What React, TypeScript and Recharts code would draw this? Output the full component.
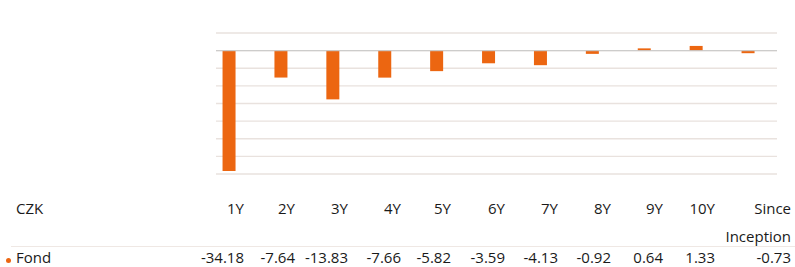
import React from "react";
import { BarChart, Bar, XAxis, YAxis, CartesianGrid, ReferenceLine } from "recharts";

const categories = ["1Y", "2Y", "3Y", "4Y", "5Y", "6Y", "7Y", "8Y", "9Y", "10Y", "Since Inception"];
const fondValues = [-34.18, -7.64, -13.83, -7.66, -5.82, -3.59, -4.13, -0.92, 0.64, 1.33, -0.73];
const yTicks = [-35, -30, -25, -20, -15, -10, -5, 0, 5];
const yDomain: [number, number] = [-35, 5];
const currencyLabel = "CZK";
const seriesName = "Fond";

const data = categories.map((cat, i) => ({ idx: i, cat, fond: fondValues[i] }));

const ORANGE = "#ec6611";
const FONT = "'Open Sans', 'Noto Sans', sans-serif";
const colWidths = [51, 51, 53, 53, 50, 54, 53, 53, 52, 52, 76];
const firstCol = 193;

const gridGenerator = (props: any) => {
  const scale = props?.yAxis?.scale;
  const offset = props?.offset;
  return yTicks.map((t) => {
    if (typeof scale === "function") return scale(t);
    if (scale && typeof scale.map === "function") return scale.map(t);
    if (scale && typeof scale.scale === "function") return scale.scale(t);
    const top = offset?.top ?? 0;
    const h = offset?.height ?? 0;
    return top + ((yDomain[1] - t) / (yDomain[1] - yDomain[0])) * h;
  });
};

export default function App() {
  return (
    <div
      style={{
        position: "absolute",
        left: 0,
        top: 0,
        width: 795,
        height: 267,
        overflow: "hidden",
        background: "#fff",
        fontFamily: FONT,
        color: "#1a1a1a",
      }}
    >
      <BarChart
        width={795}
        height={190}
        data={data}
        margin={{ top: 33, right: 18, bottom: 16, left: 216 }}
      >
        <CartesianGrid
          vertical={false}
          horizontalCoordinatesGenerator={gridGenerator}
          stroke="#e9e2de"
          strokeWidth={1.4}
        />
        <XAxis dataKey="idx" type="number" domain={[-0.26, 10.549]} hide />
        <YAxis type="number" domain={yDomain} ticks={yTicks} interval={0} hide />
        <Bar dataKey="fond" fill={ORANGE} barSize={13} isAnimationActive={false} />
        <ReferenceLine y={0} stroke="#c8c8c8" strokeWidth={1.4} strokeOpacity={0.85} />
      </BarChart>

      {/* header row */}
      <div
        style={{
          position: "absolute",
          left: 0,
          top: 194,
          display: "flex",
          fontSize: 15,
          lineHeight: "28px",
        }}
      >
        <div style={{ width: firstCol, paddingLeft: 16, boxSizing: "border-box" }}>{currencyLabel}</div>
        {categories.map((c, i) => (
          <div key={c} style={{ width: colWidths[i], textAlign: "right" }}>
            {c}
          </div>
        ))}
      </div>

      {/* separator */}
      <div
        style={{
          position: "absolute",
          left: 11,
          top: 246,
          width: 784,
          height: 1,
          background: "#efe8e4",
        }}
      />

      {/* value row */}
      <div
        style={{
          position: "absolute",
          left: 0,
          top: 247,
          display: "flex",
          fontSize: 15,
          lineHeight: "20px",
        }}
      >
        <div style={{ width: firstCol, paddingLeft: 16, boxSizing: "border-box", position: "relative" }}>
          <span
            style={{
              position: "absolute",
              left: 5.5,
              top: 11,
              width: 5,
              height: 5,
              borderRadius: "50%",
              background: ORANGE,
            }}
          />
          {seriesName}
        </div>
        {fondValues.map((v, i) => (
          <div key={i} style={{ width: colWidths[i], textAlign: "right" }}>
            {v.toFixed(2)}
          </div>
        ))}
      </div>
    </div>
  );
}
